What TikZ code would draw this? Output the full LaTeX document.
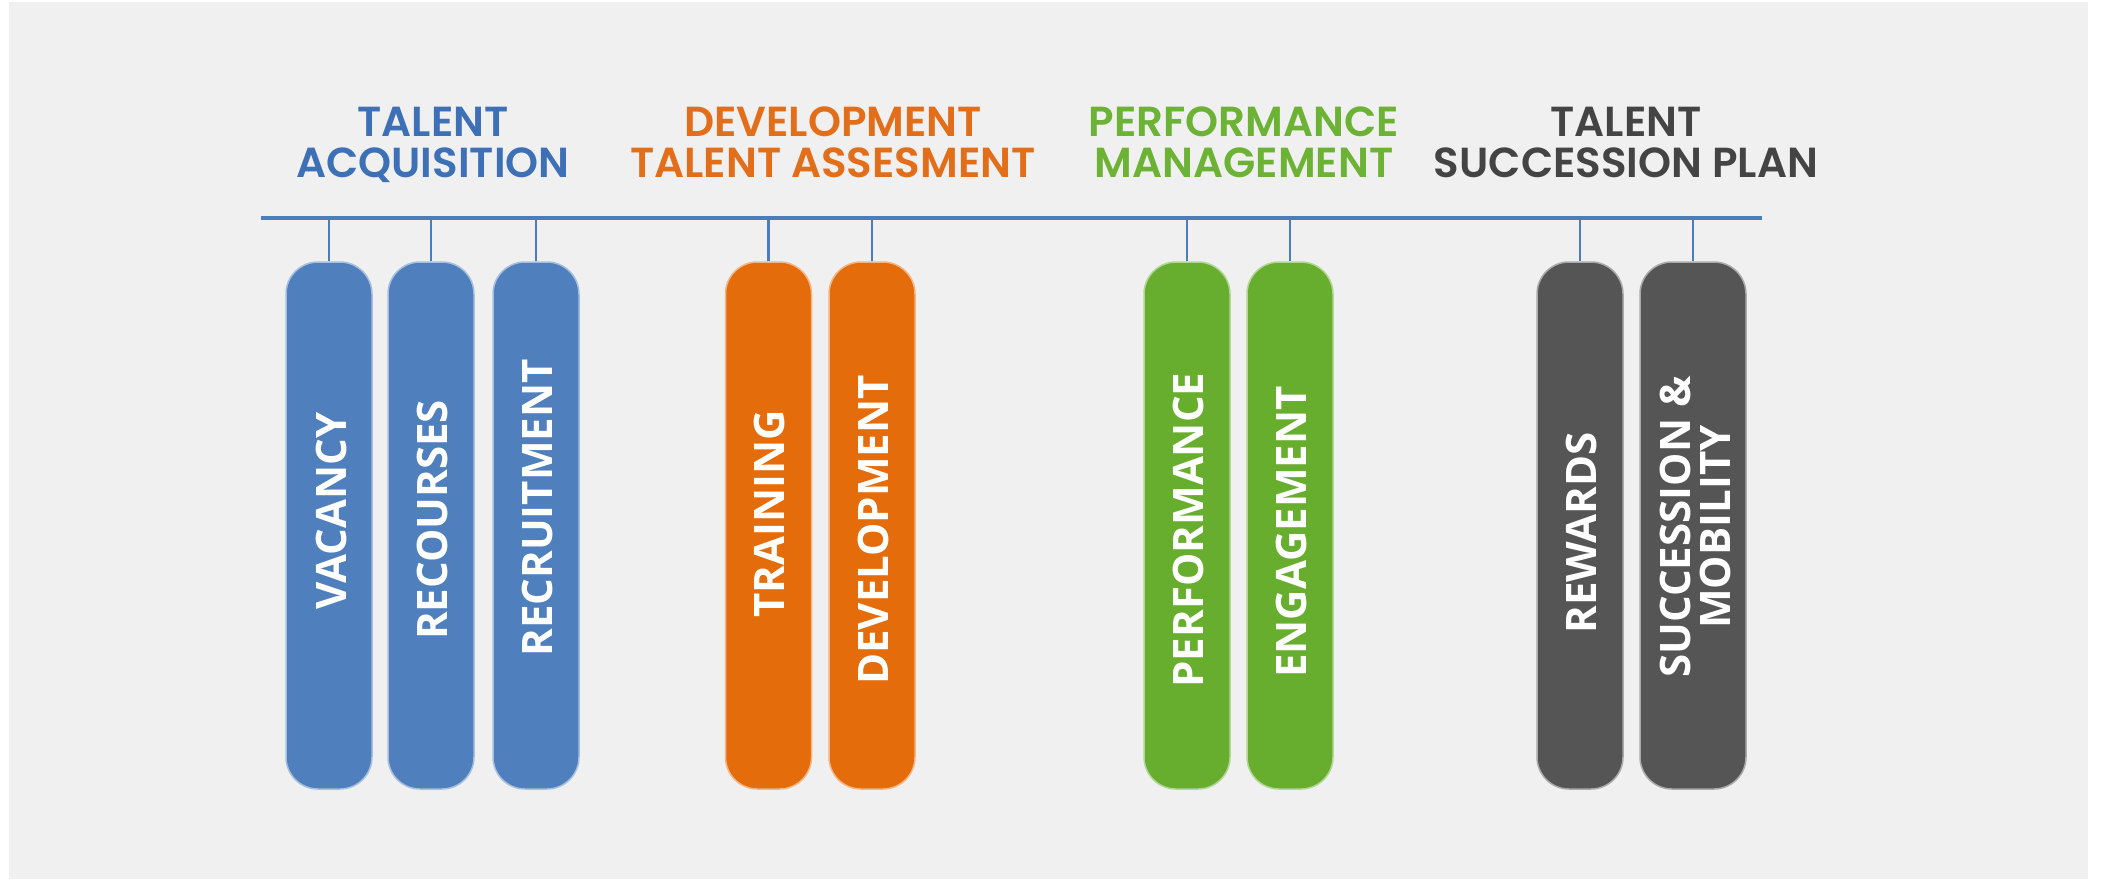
\documentclass[tikz,border=0pt]{standalone}
\usepackage{fontspec}
\newfontfamily\headfont{Poppins SemiBold}
\newfontfamily\pillfont{Open Sans}

\definecolor{panel}{RGB}{240,240,240}
\definecolor{barblue}{RGB}{74,126,187}
\definecolor{cblue}{RGB}{79,128,189}
\definecolor{corange}{RGB}{228,108,10}
\definecolor{cgreen}{RGB}{104,174,46}
\definecolor{cgray}{RGB}{85,85,85}
\definecolor{hblue}{RGB}{62,112,182}
\definecolor{horange}{RGB}{226,110,26}
\definecolor{hgreen}{RGB}{108,178,52}
\definecolor{hgray}{RGB}{68,68,68}

\tikzset{
  head/.style={anchor=north, align=center, inner sep=0pt,
    font=\headfont\fontsize{42}{41}\selectfont},
  pill/.style={rectangle, rounded corners=32pt, minimum width=86pt,
    minimum height=527pt, inner sep=0pt, line width=1.5pt, draw=#1!50!white, fill=#1},
  pilltext/.style={rotate=90, align=center, inner sep=0pt, text=white,
    font=\pillfont\bfseries\fontsize{42}{40}\selectfont},
  bar/.style={draw=barblue, line width=4pt},
  stub/.style={draw=barblue, line width=2.5pt},
}

\begin{document}
\begin{tikzpicture}[x=1pt,y=-1pt]
  \useasboundingbox (0,0) rectangle (2103,879);
  \fill[white] (0,0) rectangle (2103,879);
  \fill[panel] (9,2) rectangle (2088,879);

  % group headings
  \node[head, text=hblue]   (hacq)  at (433,107)  {TALENT\\ACQUISITION};
  \node[head, text=horange] (hdev)  at (833,107)  {DEVELOPMENT\\TALENT ASSESMENT};
  \node[head, text=hgreen]  (hperf) at (1244,107) {PERFORMANCE\\MANAGEMENT};
  \node[head, text=hgray]   (hsucc) at (1626,107) {TALENT\\SUCCESSION PLAN};

  % main rail
  \coordinate (railL) at (261,218);
  \coordinate (railR) at (1762,218);

  % pills
  \node[pill=cblue]   (vac)   at (329,525.5)  {};
  \node[pill=cblue]   (res)   at (431,525.5)  {};
  \node[pill=cblue]   (rec)   at (536,525.5)  {};
  \node[pill=corange] (trn)   at (768.5,525.5) {};
  \node[pill=corange] (dev)   at (872,525.5)  {};
  \node[pill=cgreen]  (perf)  at (1187,525.5) {};
  \node[pill=cgreen]  (eng)   at (1290,525.5) {};
  \node[pill=cgray]   (rew)   at (1580,525.5) {};
  \node[pill=cgray, minimum width=106pt] (suc) at (1693,525.5) {};

  % connectors from the rail down to each pill
  \foreach \p in {vac,res,rec,trn,dev,perf,eng,rew,suc}
    \draw[stub] (\p.north) -- (\p.north |- railL);
  \draw[bar] (railL) -- (railR);

  % pill labels
  \node[pilltext] (vact)  at (331,511)  {VACANCY};
  \node[pilltext] (rest)  at (432,520)  {RECOURSES};
  \node[pilltext] (rect)  at (537,508)  {RECRUITMENT};
  \node[pilltext] (trnt)  at (769,514)  {TRAINING};
  \node[pilltext] (devt)  at (873,530)  {DEVELOPMENT};
  \node[pilltext] (perft) at (1188,530) {PERFORMANCE};
  \node[pilltext] (engt)  at (1291,532) {ENGAGEMENT};
  \node[pilltext] (rewt)  at (1581,533) {REWARDS};
  \node[pilltext] (suct)  at (1695,527) {SUCCESSION \&\\MOBILITY};
\end{tikzpicture}
\end{document}
